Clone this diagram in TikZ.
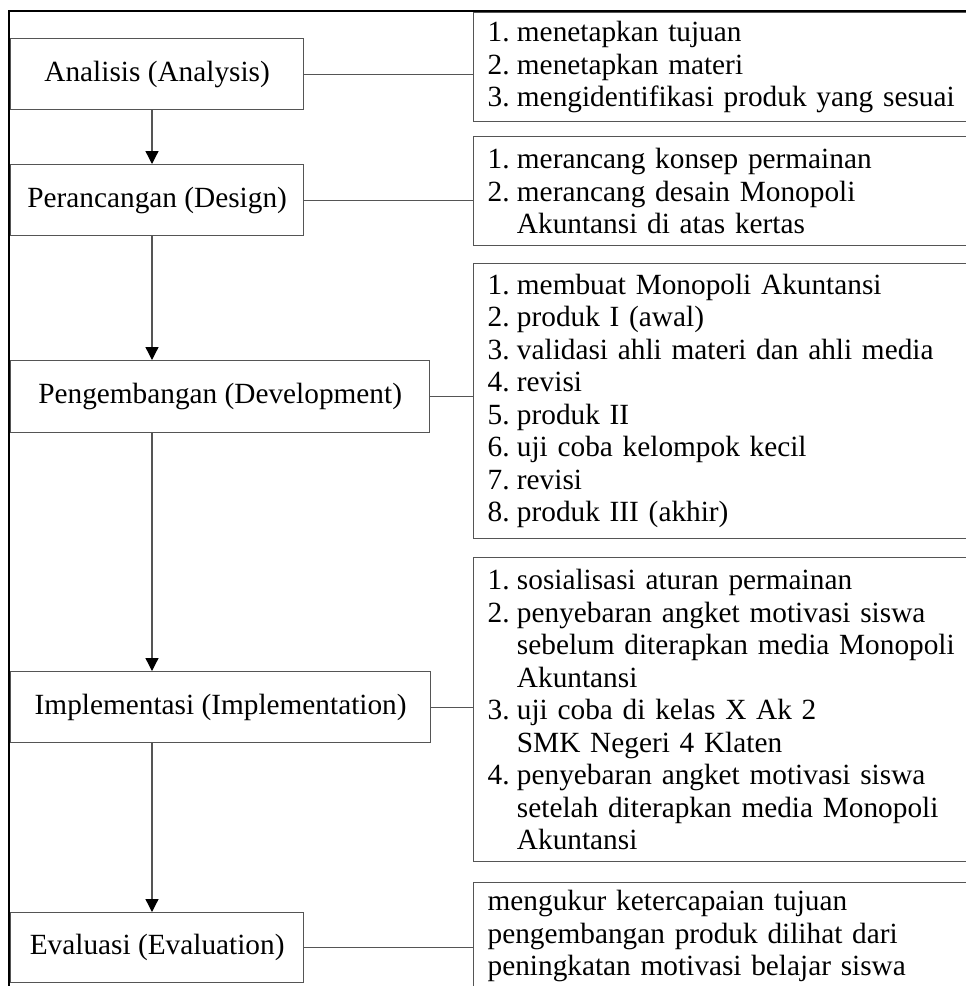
\documentclass[tikz,border=0pt]{standalone}
\usepackage{fontspec}
\setmainfont{Liberation Serif}
\usetikzlibrary{arrows.meta,calc}
\definecolor{boxline}{HTML}{555555}
\newcommand{\numlab}[1]{\makebox[1em][l]{#1}}
\newcommand{\contind}{\hspace*{1em}}
\begin{document}
\begin{tikzpicture}[x=1pt,y=-1pt,
  every node/.style={font=\fontsize{29.3}{32.5}\selectfont},
  stage/.style={draw=boxline, line width=1.3pt, minimum height=71pt, anchor=north west, inner sep=0pt},
  detail/.style={draw=boxline, line width=1.3pt, anchor=north west, inner xsep=14pt, inner ysep=0pt, text width=499pt, align=left},
  flow/.style={draw=boxline, line width=1.3pt, -{Triangle[length=13pt,width=13pt,color=black]}},
  link/.style={draw=boxline, line width=1.3pt},
  frame/.style={draw=black, line width=1.5pt}]
\useasboundingbox (0,0) rectangle (966,986);
\clip (0,0) rectangle (966,986);
\fill[white] (0,0) rectangle (966,986);

% outer frame
\coordinate (fbl) at (9,986);
\coordinate (ftl) at (9,11);
\coordinate (ftr) at (966,11);
\draw[frame] (fbl) -- (ftl) -- (ftr);

% stages
\node[stage, minimum width=293pt] (A) at (10,38) {Analisis (Analysis)};
\node[stage, minimum width=293pt] (P) at (10,164) {Perancangan (Design)};
\node[stage, minimum width=419pt, minimum height=72pt] (D) at (10,360) {Pengembangan (Development)};
\node[stage, minimum width=420pt] (I) at (10,671) {Implementasi (Implementation)};
\node[stage, minimum width=293pt, minimum height=70pt] (E) at (10,912) {Evaluasi (Evaluation)};

% details
\node[detail, minimum height=109pt] (R1) at (473,12) {%
\numlab{1.}menetapkan tujuan\\
\numlab{2.}menetapkan materi\\
\numlab{3.}mengidentifikasi produk yang sesuai};
\node[detail, minimum height=109pt] (R2) at (473,136) {%
\numlab{1.}merancang konsep permainan\\
\numlab{2.}merancang desain Monopoli\\
\contind Akuntansi di atas kertas};
\node[detail, minimum height=275pt] (R3) at (473,263) {%
\numlab{1.}membuat Monopoli Akuntansi\\
\numlab{2.}produk I (awal)\\
\numlab{3.}validasi ahli materi dan ahli media\\
\numlab{4.}revisi\\
\numlab{5.}produk II\\
\numlab{6.}uji coba kelompok kecil\\
\numlab{7.}revisi\\
\numlab{8.}produk III (akhir)};
\node[detail, minimum height=304pt] (R4) at (473,557) {%
\numlab{1.}sosialisasi aturan permainan\\
\numlab{2.}penyebaran angket motivasi siswa\\
\contind sebelum diterapkan media Monopoli\\
\contind Akuntansi\\
\numlab{3.}uji coba di kelas X Ak 2\\
\contind SMK Negeri 4 Klaten\\
\numlab{4.}penyebaran angket motivasi siswa\\
\contind setelah diterapkan media Monopoli\\
\contind Akuntansi};
\node[detail, minimum height=107pt] (R5) at (473,882) {%
mengukur ketercapaian tujuan\\
pengembangan produk dilihat dari\\
peningkatan motivasi belajar siswa};

% vertical flow arrows
\coordinate (ax) at (152,0);
\draw[flow] (A.south -| ax) -- (P.north -| ax);
\draw[flow] (P.south -| ax) -- (D.north -| ax);
\draw[flow] (D.south -| ax) -- (I.north -| ax);
\draw[flow] (I.south -| ax) -- (E.north -| ax);

% horizontal links
\draw[link] (A.east) -- (A.east -| R1.west);
\draw[link] (P.east) -- (P.east -| R2.west);
\draw[link] (D.east) -- (D.east -| R3.west);
\draw[link] (I.east) -- (I.east -| R4.west);
\draw[link] (E.east) -- (E.east -| R5.west);
\end{tikzpicture}
\end{document}
